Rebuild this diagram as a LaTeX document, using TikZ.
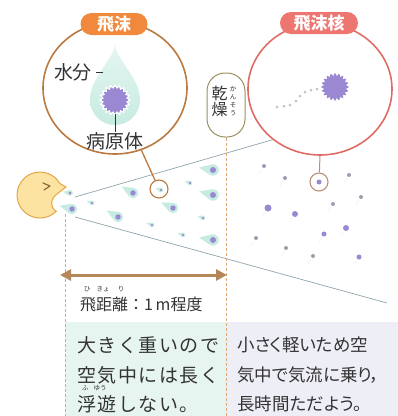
\documentclass[tikz,border=0pt]{standalone}
\usepackage{fontspec}
\setmainfont{Noto Sans CJK JP}
\usetikzlibrary{shapes.geometric,arrows.meta}

\definecolor{mint}{HTML}{C6EBE1}
\definecolor{purp}{HTML}{9B88D2}
\definecolor{dotgray}{HTML}{A09CAE}
\definecolor{trail}{HTML}{C3C0CC}
\definecolor{orangeA}{HTML}{F0893C}
\definecolor{brownA}{HTML}{BA7A40}
\definecolor{redA}{HTML}{E06C66}
\definecolor{redP}{HTML}{EE7670}
\definecolor{faceY}{HTML}{FDE3A2}
\definecolor{faceO}{HTML}{E3A647}
\definecolor{eyeC}{HTML}{8A6A3A}
\definecolor{coneL}{HTML}{8FA3AC}
\definecolor{dashC}{HTML}{DDA978}
\definecolor{arrowC}{HTML}{B3875A}
\definecolor{khaki}{HTML}{9C9160}
\definecolor{boxMint}{HTML}{E7F5F1}
\definecolor{boxLav}{HTML}{EEEEF7}
\definecolor{txt}{HTML}{333333}
\definecolor{ringR}{HTML}{BF8E78}
\definecolor{tailC}{HTML}{F0F0F5}

\tikzset{
  % droplet flying to the right: bulb with pathogen, tail to the left
  drop/.pic={
    \fill[mint] (-13,0) -- (113:5.2) arc[start angle=113,end angle=-113,radius=5.2] -- cycle;
    \fill[purp] (0,0) circle[radius=2.7];
  },
  % spiky pathogen particle
  virus/.pic={
    \fill[white] plot[domain=0:360,samples=121] (\x:{14.5+1.4*cos(20*\x)}) -- cycle;
    \fill[purp] plot[domain=0:360,samples=121] (\x:{12.3+1.1*cos(20*\x)}) -- cycle;
  },
  nucleus/.pic={
    \fill[purp] plot[domain=0:360,samples=121] (\x:{12.5+1.3*cos(20*\x)}) -- cycle;
  },
  pill/.style={rounded corners=11pt, minimum height=22pt, inner sep=0pt,
    text=white, font=\fontsize{17}{17}\selectfont\bfseries},
  bigcircle/.style={ellipse, fill=white, line width=1.6pt, inner sep=0pt,
    minimum width=144pt, minimum height=132pt},
  ring/.style={circle, fill=white, line width=1.1pt, minimum size=18pt, inner sep=0pt},
  lbl/.style={text=txt, inner sep=0pt, font=\fontsize{19}{19}\selectfont},
  body/.style={text=txt, inner sep=0pt, anchor=west},
  lbody/.style={body, font=\fontsize{19}{19}\selectfont\addfontfeatures{LetterSpace=8}},
  rbody/.style={body, font=\fontsize{17.5}{17.5}\selectfont\addfontfeatures{RawFeature=+palt}},
  ruby/.style={text=txt, inner sep=0pt, font=\fontsize{6.5}{6.5}\selectfont},
  cone/.style={coneL, line width=0.7pt},
  guide/.style={dashC, line width=0.8pt, dash pattern=on 3pt off 2pt},
}

\begin{document}
\begin{tikzpicture}[x=1pt,y=-1pt]
\useasboundingbox (0,0) rectangle (398,416);

% explanation panels
\fill[boxMint] (65,322) rectangle (226,416);
\fill[boxLav] (226,322) rectangle (398,416);

% spreading cone from the mouth
\coordinate (mouthU) at (75,197);
\coordinate (mouthD) at (75,217);
\coordinate (coneTop) at (275,139);
\coordinate (coneEnd) at (387,303);
\draw[cone] (mouthU) -- (coneTop);
\draw[cone] (mouthD) -- (coneEnd);

% droplets inside 1 m
\pic[scale=0.55,rotate=-10] at (70,193) {drop};
\pic[rotate=-15] at (72,209) {drop};
\pic[scale=0.45,rotate=-20] at (92,203) {drop};
\pic[rotate=-30] at (133,193) {drop};
\pic[rotate=-30] at (118,217) {drop};
\pic[rotate=-25] at (173,208) {drop};
\pic[scale=0.45,rotate=-20] at (190,183) {drop};
\pic[scale=1.1,rotate=-10] at (213,170) {drop};
\pic[scale=1.1,rotate=-15] at (213,195) {drop};
\pic[scale=0.45,rotate=-20] at (203,218) {drop};
\pic[scale=0.45,rotate=-20] at (152,225) {drop};
\pic[scale=0.45,rotate=-20] at (183,235) {drop};
\pic[scale=1.1,rotate=-10] at (213,240) {drop};

% droplet nuclei drifting further away
\foreach \px/\py/\r/\c in {264/166/2/dotgray, 285/178/2/dotgray, 349/175/2/dotgray,
    361/197/2/dotgray, 333/204/2/dotgray, 268/208/3.5/purp, 295/214/3/purp,
    346/228/3/purp, 324/234/2.5/purp, 256/238/2/dotgray, 286/248/2/dotgray,
    313/256/2/dotgray, 359/257/2.5/purp} {
  \draw[tailC, line width=0.6pt] (\px-2,\py+3) -- (\px-5,\py+8);
  \fill[\c] (\px,\py) circle[radius=\r];
}

% guide lines
\coordinate (dl) at (65,214);
\coordinate (dlb) at (65,416);
\coordinate (drb) at (226,416);
\draw[guide] (dl) -- (dlb);

% speaker
\filldraw[fill=faceY, draw=faceO, line width=1pt]
  (66,187) -- (57,194) .. controls (50,199) and (50,208) .. (56.3,211.3)
  arc[start angle=45,end angle=330,radius=23] -- cycle;
\draw[eyeC, line width=1.2pt, line cap=round, line join=round] (43,183) -- (50,186) -- (44,190);

% magnified views
\node[bigcircle, draw=brownA] (lc) at (115,88) {};
\node[bigcircle, draw=redA] (rc) at (320,89) {};

% droplet with water and pathogen
\shade[top color=mint!45!white, bottom color=mint]
  (115,45) .. controls (118,62) and (140,78) .. (140,100)
  arc[start angle=0,end angle=180,radius=25]
  .. controls (90,78) and (112,62) .. (115,45) -- cycle;
\pic at (115,100) {virus};
\node[lbl] (water) at (73,72) {水分};
\draw[txt, line width=0.9pt] ([xshift=4pt]water.east) -- ([xshift=11pt]water.east);
\node[lbl] (pathogen) at (115,141) {病原体};
\coordinate (virB) at (115,114);
\draw[txt, line width=0.9pt] (virB) -- (pathogen.north);

% dried nucleus
\foreach \px/\py in {277/107, 284/106, 290/105, 296/101, 300/96, 305/92, 311/90, 317/89}
  \fill[trail] (\px,\py) circle[radius=1.5];
\pic at (335,87) {nucleus};

% magnifier rings
\node[ring, draw=brownA] (lring) at (159,189) {};
\pic[scale=0.45,rotate=-20] at (161,190) {drop};
\node[ring, draw=ringR] (rring) at (319,182) {};
\fill[purp] (rring) circle[radius=2.5];
\draw[brownA, line width=1.3pt] (lc.-67) -- (lring);
\draw[ringR, line width=1pt] (rc.south) -- (rring);

% title pills
\node[pill, fill=orangeA, minimum width=67pt] (t1) at (114,24) {飛沫};
\node[pill, fill=redP, minimum width=78pt] (t2) at (319,23) {飛沫核};

% drying
\node[draw=khaki, fill=white, line width=1pt, rounded corners=18pt,
  minimum width=38pt, minimum height=64pt, inner sep=0pt] (dry) at (226,105) {};
\node[text=txt, inner sep=0pt, align=center, font=\fontsize{16}{16}\selectfont] (dryk) at (219.5,101) {乾\\燥};
\node[text=txt, inner sep=0pt, align=center, font=\fontsize{6.5}{8}\selectfont] (dryr) at (233,101) {か\\ん\\そ\\う};
\draw[guide] (dry.south) -- (drb);

% travel distance
\coordinate (aL) at (60,275);
\coordinate (aR) at (227,275);
\draw[arrowC, line width=3pt, {Triangle[length=11pt,width=11pt]}-{Triangle[length=11pt,width=11pt]}] (aL) -- (aR);
\node[text=txt, inner sep=0pt, anchor=west, font=\fontsize{16}{16}\selectfont] (dist) at (80,304) {飛距離：1\,m程度};
\node[ruby] (r1) at (87,289) {ひ};
\node[ruby] (r2) at (103,289) {きょ};
\node[ruby] (r3) at (121,289) {り};

% explanations
\node[lbody] (l1) at (77,345) {大きく重いので};
\node[lbody] (l2) at (77,375) {空気中には長く};
\node[lbody] (l3) at (77,404) {浮遊しない。};
\node[ruby] (r4) at (85,388) {ふ};
\node[ruby] (r5) at (100,388) {ゆう};
\node[rbody] (m1) at (237,345) {小さく軽いため空};
\node[rbody] (m2) at (237,375) {気中で気流に乗り，};
\node[rbody] (m3) at (237,404) {長時間ただよう。};
\end{tikzpicture}
\end{document}
